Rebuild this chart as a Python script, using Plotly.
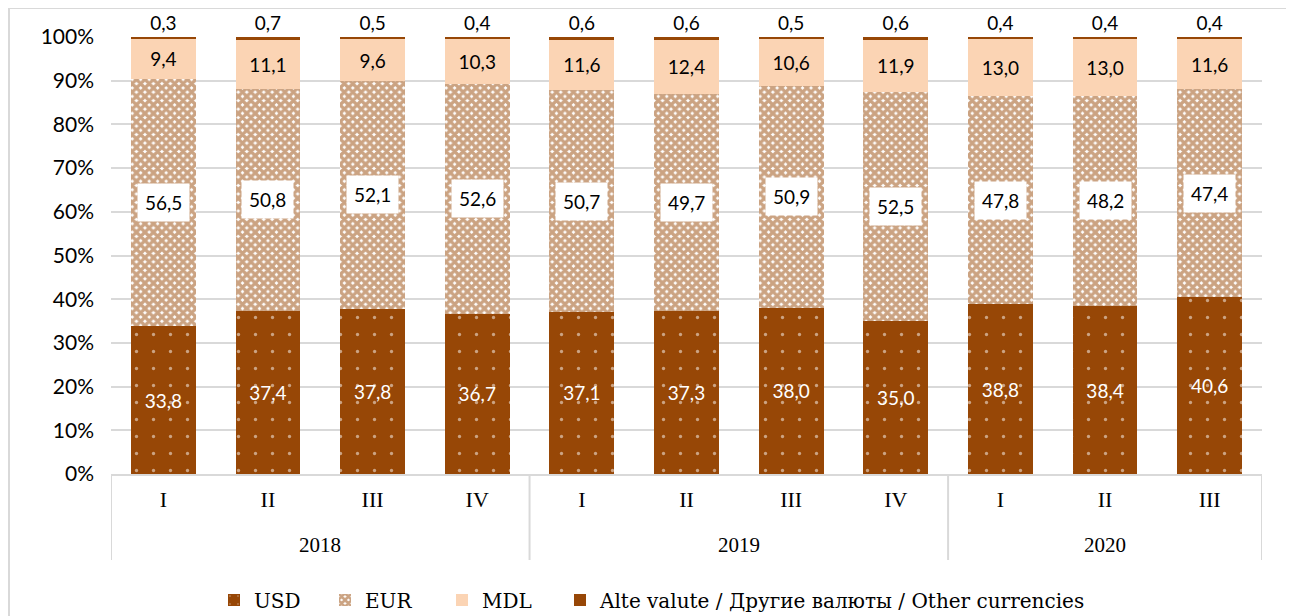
import plotly.graph_objects as go

years = ["2018"] * 4 + ["2019"] * 4 + ["2020"] * 3
quarters = ["I", "II", "III", "IV", "I", "II", "III", "IV", "I", "II", "III"]

usd = [33.8, 37.4, 37.8, 36.7, 37.1, 37.3, 38.0, 35.0, 38.8, 38.4, 40.6]
eur = [56.5, 50.8, 52.1, 52.6, 50.7, 49.7, 50.9, 52.5, 47.8, 48.2, 47.4]
mdl = [9.4, 11.1, 9.6, 10.3, 11.6, 12.4, 10.6, 11.9, 13.0, 13.0, 11.6]
other = [0.3, 0.7, 0.5, 0.4, 0.6, 0.6, 0.5, 0.6, 0.4, 0.4, 0.4]

series_names = ["USD", "EUR", "MDL", "Alte valute / Другие валюты / Other currencies"]

BROWN = "#974706"
PEACH = "#FBD4B4"
SANS = "Lato"
SERIF = "Liberation Serif"
LEGSERIF = "DejaVu Serif"
GRID = "#d9d9d9"

# geometry: the page body adds an 8px offset, so screen px = figure px + 8
OFF = 8
W, H = 1294, 616
ML = 111 - OFF
MT = 37 - OFF
MB = H - (474 - OFF)
MR = W - (1262 - OFF)
PW, PH = W - ML - MR, H - MT - MB


def py(screen):
    """screen pixel row -> paper y"""
    return (H - MB - (screen - OFF)) / PH


def px(screen):
    return (screen - OFF - ML) / PW


def fmt(v):
    return f"{v:.1f}".replace(".", ",")


xi = list(range(len(quarters)))

fig = go.Figure()
fig.add_trace(go.Bar(
    x=xi, y=usd, name=series_names[0], legend="legend",
    marker=dict(color=BROWN, line=dict(width=0),
                pattern=dict(shape=".", fgcolor="white", bgcolor=BROWN,
                             size=17, solidity=0.03, fillmode="overlay")),
    text=[fmt(v) for v in usd], textposition="inside", insidetextanchor="middle",
    textfont=dict(color="white", size=19, family=SANS), textangle=0,
))
fig.add_trace(go.Bar(
    x=xi, y=eur, name=series_names[1], legend="legend2",
    marker=dict(color="white", line=dict(width=0),
                pattern=dict(shape="x", fgcolor=BROWN, bgcolor="white",
                             size=6, solidity=0.8, fillmode="overlay")),
))
fig.add_trace(go.Bar(
    x=xi, y=mdl, name=series_names[2], legend="legend3",
    marker=dict(color=PEACH, line=dict(width=0)),
    text=[fmt(v) for v in mdl], textposition="inside", insidetextanchor="middle",
    textfont=dict(color="black", size=19, family=SANS), textangle=0,
))
fig.add_trace(go.Bar(
    x=xi, y=other, name=series_names[3], legend="legend4",
    marker=dict(color=BROWN, line=dict(width=0)),
    text=[fmt(v) for v in other], textposition="outside",
    textfont=dict(color="black", size=19, family=SANS), textangle=0,
    cliponaxis=False,
))

# EUR labels with white background boxes
for i, (u, e) in enumerate(zip(usd, eur)):
    fig.add_annotation(
        x=i, y=u + e / 2, xref="x", yref="y", text=fmt(e), showarrow=False,
        bgcolor="white", borderpad=7,
        font=dict(color="black", size=19, family=SANS),
    )

# year group labels and dividers
groups = []
for i, yv in enumerate(years):
    if not groups or groups[-1][0] != yv:
        groups.append([yv, i, i])
    else:
        groups[-1][2] = i
for yv, a, b in groups:
    fig.add_annotation(x=(a + b) / 2, y=py(545), xref="x", yref="paper", text=yv,
                       showarrow=False, yanchor="middle",
                       font=dict(size=21, family=SERIF, color="black"))
bounds = [groups[0][1] - 0.5] + [b + 0.5 for _, _, b in groups]
for bx in bounds:
    fig.add_shape(type="line", xref="x", yref="paper", x0=bx, x1=bx,
                  y0=0, y1=py(560), line=dict(color=GRID, width=2))

# outer chart border
fig.add_shape(type="rect", xref="paper", yref="paper",
              x0=px(9), x1=px(1290), y0=py(660), y1=py(8),
              line=dict(color=GRID, width=2), fillcolor="rgba(0,0,0,0)",
              layer="below")


def leg(xs):
    return dict(orientation="h", x=px(xs), xanchor="left", y=py(600), yanchor="middle",
                font=dict(size=20, family=LEGSERIF, color="black"),
                itemwidth=30, bgcolor="rgba(0,0,0,0)")


fig.update_layout(
    width=W, height=H,
    margin=dict(l=ML, r=MR, t=MT, b=MB, autoexpand=False),
    barmode="stack", bargap=0.38,
    plot_bgcolor="white", paper_bgcolor="white",
    font=dict(family=SERIF, color="black"),
    legend=leg(249 - 35), legend2=leg(360 - 35), legend3=leg(477 - 35),
    legend4=leg(597 - 37),
    showlegend=True,
)
fig.update_yaxes(range=[0, 100.001], tickvals=list(range(0, 101, 10)),
                 ticktext=[f"{v}%" for v in range(0, 101, 10)], showgrid=True,
                 gridcolor=GRID, gridwidth=2, zeroline=False,
                 tickfont=dict(size=21, family=SANS, color="black"),
                 ticklabelstandoff=16, showline=False, automargin=False)
fig.update_xaxes(range=[-0.5, len(quarters) - 0.5], tickmode="array",
                 tickvals=xi, ticktext=quarters, showgrid=False, zeroline=False,
                 showline=True, linecolor=GRID, linewidth=2, ticks="",
                 ticklabelstandoff=5, automargin=False,
                 tickfont=dict(size=22, family=SERIF, color="black"))

fig.write_html("out.html")
